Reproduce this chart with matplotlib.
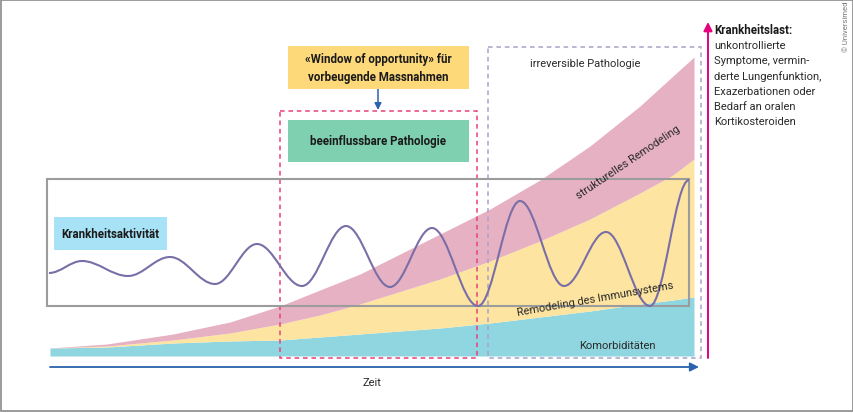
import matplotlib
matplotlib.use("Agg")
import matplotlib.pyplot as plt
from matplotlib.path import Path
from matplotlib.patches import PathPatch, Rectangle

plt.rcParams['font.family'] = ['Roboto', 'DejaVu Sans']

# time axis samples (px-like units along the time axis) and the top edges of the three bands
time_pts = [50, 107, 173, 230, 280, 320, 360, 440, 490, 540, 590, 640, 673, 694]
komorb_top = [349, 348, 344, 342, 341, 338, 335, 329, 324, 318, 312, 305, 301, 298]
immun_top = [349, 347, 341, 334, 325, 316, 305, 280, 262, 242, 220, 194, 176, 160]
struct_top = [349, 345, 335, 323, 307, 291, 275, 235, 210, 181, 147, 107, 77, 58]
band_base = 357

# disease activity: turning points of the wave
wave_x = [49, 82, 128, 170, 215, 257, 302, 346, 390, 432, 478, 520, 564, 606, 650, 689]
wave_y = [274, 262, 277, 258, 285, 245, 287, 227, 288, 229, 307, 202, 287, 233, 307, 181]

side_lines = ["unkontrollierte", "Symptome, vermin-", "derte Lungenfunktion,",
              "Exazerbationen oder", "Bedarf an oralen", "Kortikosteroiden"]

fig = plt.figure(figsize=(8.54, 4.14), dpi=100)
ax = fig.add_axes([0, 0, 1, 1])
ax.set_xlim(0, 854)
ax.set_ylim(414, 0)
ax.axis('off')

# outer frame
ax.add_patch(Rectangle((0.8, 0.8), 852, 411.5, fill=False, ec='#8a8a8a', lw=1.2, zorder=0))

# stacked bands
ax.fill_between(time_pts, band_base, komorb_top, color='#8fd6e0', lw=0, zorder=1)
ax.fill_between(time_pts, komorb_top, immun_top, color='#fde4a0', lw=0, zorder=1)
ax.fill_between(time_pts, immun_top, struct_top, color='#e6b1c2', lw=0, zorder=1)

# dashed regions
ax.add_patch(Rectangle((280, 112), 197, 247, fill=False, ec='#e8407f', lw=1.1,
                       ls=(0, (3, 2.5)), zorder=2))
ax.add_patch(Rectangle((488, 48), 213, 311, fill=False, ec='#a9a2c9', lw=1.1,
                       ls=(0, (3, 2.5)), zorder=2))

# activity box
ax.add_patch(Rectangle((47, 180), 642, 127, fill=False, ec='#9c9c9c', lw=1.5, zorder=3))

# wave drawn as smooth bezier segments between turning points
verts = [(wave_x[0], wave_y[0])]
codes = [Path.MOVETO]
k = 0.36
for i in range(len(wave_x) - 1):
    x0, y0, x1, y1 = wave_x[i], wave_y[i], wave_x[i + 1], wave_y[i + 1]
    dx = x1 - x0
    verts += [(x0 + k * dx, y0), (x1 - k * dx, y1), (x1, y1)]
    codes += [Path.CURVE4] * 3
ax.add_patch(PathPatch(Path(verts, codes), fill=False, ec='#7a6ea8', lw=1.5, zorder=4))

bold_fs = 8.3
reg_fs = 8.0

# boxes with labels
ax.add_patch(Rectangle((54, 218), 113, 33, fc='#a8e2f6', ec='none', zorder=5))
ax.text(110, 235, "Krankheitsaktivität", ha='center', va='center', fontsize=bold_fs,
        fontweight='bold', color='#1a1a1a', zorder=6)

ax.add_patch(Rectangle((288, 47), 181, 43, fc='#fdd97a', ec='none', zorder=5))
ax.text(378, 68.5, "«Window of opportunity» für\nvorbeugende Massnahmen", ha='center',
        va='center', fontsize=bold_fs, fontweight='bold', color='#1a1a1a', linespacing=1.5, zorder=6)

ax.add_patch(Rectangle((288, 121), 181, 42, fc='#7fcfb1', ec='none', zorder=5))
ax.text(378, 142, "beeinflussbare Pathologie", ha='center', va='center', fontsize=bold_fs,
        fontweight='bold', color='#1a1a1a', zorder=6)

ax.text(585, 64, "irreversible Pathologie", ha='center', va='center', fontsize=reg_fs,
        color='#2a2a2a', zorder=6)
ax.text(628, 162, "strukturelles Remodeling", ha='center', va='center', fontsize=reg_fs,
        rotation=34, rotation_mode='anchor', color='#2a2a2a', zorder=6)
ax.text(595, 299, "Remodeling des Immunsystems", ha='center', va='center', fontsize=reg_fs,
        rotation=10, rotation_mode='anchor', color='#2a2a2a', zorder=6)
ax.text(617, 346, "Komorbiditäten", ha='center', va='center', fontsize=reg_fs,
        color='#2a2a2a', zorder=6)

# arrows
ax.annotate('', xy=(699, 368), xytext=(50, 368),
            arrowprops=dict(arrowstyle='-|>', color='#2a62ad', lw=1.3, mutation_scale=13,
                            shrinkA=0, shrinkB=0))
ax.text(372, 383, "Zeit", ha='center', va='center', fontsize=reg_fs, color='#2a2a2a')

ax.annotate('', xy=(708, 23), xytext=(708, 359),
            arrowprops=dict(arrowstyle='-|>', color='#e6007e', lw=1.4, mutation_scale=13,
                            shrinkA=0, shrinkB=0))
ax.annotate('', xy=(378, 111), xytext=(378, 90),
            arrowprops=dict(arrowstyle='-|>', color='#2a62ad', lw=1.1, mutation_scale=10,
                            shrinkA=0, shrinkB=0))

# burden text
ax.text(714, 30, "Krankheitslast:", ha='left', va='center', fontsize=bold_fs,
        fontweight='bold', color='#1a1a1a')
for i, line in enumerate(side_lines):
    ax.text(714, 46 + i * 15.2, line, ha='left', va='center', fontsize=reg_fs, color='#2a2a2a')

ax.text(846, 27, "© Universimed", ha='center', va='center', fontsize=5.5, rotation=90,
        color='#777777')

fig.savefig("out.png", dpi=100)
